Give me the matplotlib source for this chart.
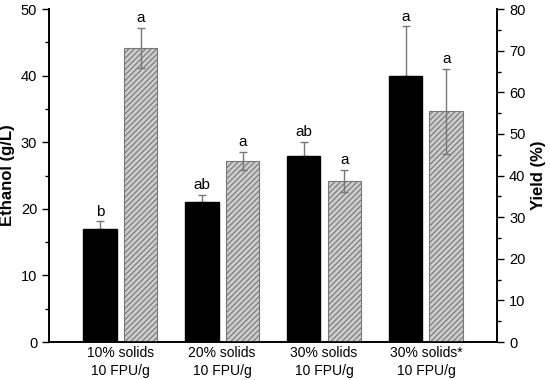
import matplotlib
matplotlib.use("Agg")
import matplotlib.pyplot as plt
import numpy as np
from matplotlib.ticker import MultipleLocator

plt.rcParams['font.family'] = ['Liberation Sans', 'DejaVu Sans']
plt.rcParams['hatch.color'] = '#555555'
plt.rcParams['hatch.linewidth'] = 0.8

# data
labels = ["10% solids\n10 FPU/g", "20% solids\n10 FPU/g", "30% solids\n10 FPU/g", "30% solids*\n10 FPU/g"]
ethanol = [17.0, 21.0, 28.0, 40.0]
ethanol_err = [1.1, 1.1, 2.0, 7.4]
ethanol_letters = ["b", "ab", "ab", "a"]
yield_pct = [70.6, 43.5, 38.7, 55.4]
yield_err = [4.8, 2.2, 2.7, 10.2]
yield_letters = ["a", "a", "a", "a"]

x = np.arange(1, len(labels) + 1)
w = 0.33
off = 0.2

fig = plt.figure(figsize=(5.5, 3.8), dpi=100)
ax = fig.add_axes([0.089, 0.1, 0.815, 0.876])
ax2 = ax.twinx()

ax.bar(x - off, ethanol, w, color='black', edgecolor='black', zorder=3)
ax.errorbar(x - off, ethanol, yerr=[np.zeros(len(ethanol)), ethanol_err], fmt='none',
            ecolor='#777777', elinewidth=1, capsize=3, capthick=1, zorder=2)
for xi, v, e, t in zip(x - off, ethanol, ethanol_err, ethanol_letters):
    ax.annotate(t, (xi, v + e), xytext=(0, 2), textcoords='offset points',
                ha='center', va='bottom', fontsize=11)

ax2.bar(x + off, yield_pct, w, color='#cccccc', edgecolor='#777777', hatch='//////',
        linewidth=0.8, zorder=2)
ax2.errorbar(x + off, yield_pct, yerr=yield_err, fmt='none', ecolor='#777777',
             elinewidth=1, capsize=3, capthick=1, zorder=3)
for xi, v, e, t in zip(x + off, yield_pct, yield_err, yield_letters):
    ax2.annotate(t, (xi, v + e), xytext=(0, 2), textcoords='offset points',
                 ha='center', va='bottom', fontsize=11)

ax.set_xlim(0.3, 4.7)
ax.set_ylim(0, 50)
ax2.set_ylim(0, 80)
ax.set_xticks(x)
ax.set_xticklabels(labels, fontsize=10, linespacing=1.35)
ax.tick_params(axis='x', length=0, pad=3)

ax.yaxis.set_major_locator(MultipleLocator(10))
ax.yaxis.set_minor_locator(MultipleLocator(5))
ax2.yaxis.set_major_locator(MultipleLocator(10))
ax2.yaxis.set_minor_locator(MultipleLocator(5))
for a in (ax, ax2):
    a.tick_params(axis='y', which='major', length=5, width=1, labelsize=10.5, direction='out')
    a.tick_params(axis='y', which='minor', length=3, width=1, direction='out')
    a.spines['top'].set_visible(False)
    for s in a.spines.values():
        s.set_linewidth(1.2)

ax.set_ylabel("Ethanol (g/L)", fontsize=12, fontweight='bold')
ax2.set_ylabel("Yield (%)", fontsize=12, fontweight='bold')

fig.savefig("out.png", dpi=100)
